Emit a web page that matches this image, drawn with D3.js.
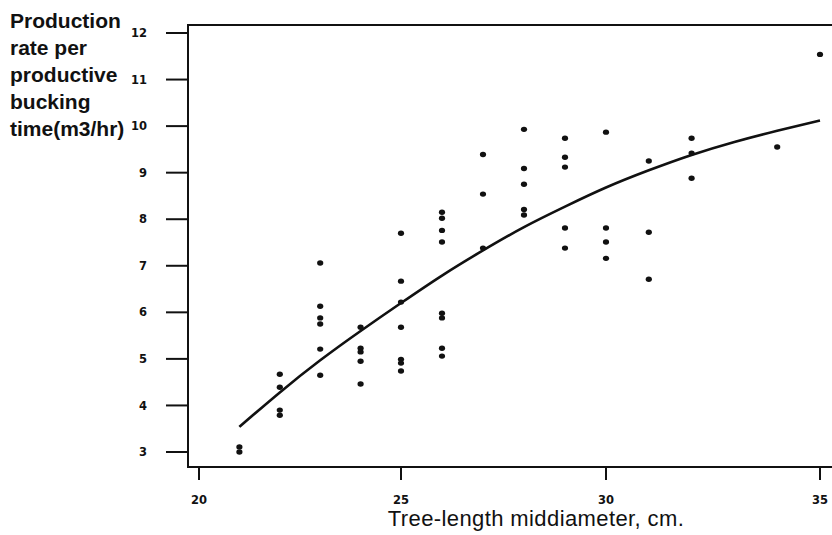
<!DOCTYPE html>
<html>
<head>
<meta charset="utf-8">
<script src="https://cdn.jsdelivr.net/npm/d3@7"></script>
<style>
  html, body { margin: 0; padding: 0; background: #fff; }
  svg { display: block; }
</style>
</head>
<body>
<svg id="chart" width="832" height="535"></svg>
<script>
// ---- data ----
const xTicks = [20, 25, 30, 35];
const yTicks = [3, 4, 5, 6, 7, 8, 9, 10, 11, 12];
const yTitleLines = ["Production", "rate per", "productive", "bucking", "time(m3/hr)"];
const xTitle = "Tree-length middiameter, cm.";

// observed points: diameter (cm) and production rate (m3/hr)
const pointX = [
  21, 21,
  22, 22, 22, 22,
  23, 23, 23, 23, 23, 23,
  24, 24, 24, 24, 24,
  25, 25, 25, 25, 25, 25, 25,
  26, 26, 26, 26, 26, 26, 26, 26,
  27, 27, 27,
  28, 28, 28, 28, 28,
  29, 29, 29, 29, 29,
  30, 30, 30, 30,
  31, 31, 31,
  32, 32, 32,
  34,
  35
];
const pointY = [
  3.11, 3.00,
  4.67, 4.39, 3.90, 3.79,
  7.06, 6.13, 5.88, 5.75, 5.21, 4.65,
  5.68, 5.23, 5.15, 4.95, 4.46,
  7.70, 6.67, 6.22, 5.68, 4.99, 4.91, 4.74,
  8.15, 8.02, 7.76, 7.51, 5.98, 5.88, 5.23, 5.06,
  9.39, 8.54, 7.38,
  9.93, 9.09, 8.75, 8.21, 8.09,
  9.74, 9.33, 9.12, 7.81, 7.38,
  9.87, 7.81, 7.51, 7.16,
  9.25, 7.72, 6.71,
  9.74, 9.42, 8.88,
  9.55,
  11.54
];

// fitted curve
const curveX = [21, 22, 23, 24, 25, 26, 27, 28, 29, 30, 31, 32, 33, 34, 35];
const curveY = [3.54, 4.28, 4.97, 5.60, 6.20, 6.79, 7.33, 7.83, 8.27, 8.68, 9.05, 9.38, 9.66, 9.90, 10.12];

// ---- layout ----
const svg = d3.select("#chart");
const axisLeftX = 188, axisTopY = 25, axisBottomY = 467, rightEdge = 832;

// x positions of the scanned ticks (slightly uneven in the original)
const x = d3.scaleLinear().domain(xTicks).range([199, 401, 606, 820]);
const y = d3.scaleLinear().domain([3, 12]).range([452, 33]);

svg.append("rect").attr("width", 832).attr("height", 535).attr("fill", "#fff");

// frame lines: top, left, bottom
const frame = svg.append("g").attr("stroke", "#111").attr("stroke-width", 2).attr("fill", "none");
frame.append("path").attr("d", `M${rightEdge},${axisTopY}H${axisLeftX}V${axisBottomY}H${rightEdge}`);

// y axis ticks and labels
const yAxis = svg.append("g");
yAxis.selectAll("line").data(yTicks).join("line")
  .attr("x1", 166).attr("x2", axisLeftX)
  .attr("y1", d => y(d)).attr("y2", d => y(d))
  .attr("stroke", "#111").attr("stroke-width", 2);
yAxis.selectAll("text").data(yTicks).join("text")
  .attr("x", 147).attr("y", d => y(d))
  .attr("dy", "0.36em")
  .attr("text-anchor", "end")
  .attr("font-family", "'DejaVu Sans', sans-serif")
  .attr("font-weight", "bold")
  .attr("font-size", 11.5)
  .attr("fill", "#111")
  .text(d => d);

// x axis ticks and labels
const xAxis = svg.append("g");
xAxis.selectAll("line").data(xTicks).join("line")
  .attr("x1", d => x(d)).attr("x2", d => x(d))
  .attr("y1", axisBottomY).attr("y2", 480)
  .attr("stroke", "#111").attr("stroke-width", 2);
xAxis.selectAll("text").data(xTicks).join("text")
  .attr("x", d => x(d)).attr("y", 500)
  .attr("dy", "0.36em")
  .attr("text-anchor", "middle")
  .attr("font-family", "'DejaVu Sans', sans-serif")
  .attr("font-weight", "bold")
  .attr("font-size", 11.5)
  .attr("fill", "#111")
  .text(d => d);

// y title
svg.append("g").selectAll("text").data(yTitleLines).join("text")
  .attr("x", 10).attr("y", (d, i) => 28 + i * 27)
  .attr("font-family", "'Liberation Sans', Arial, sans-serif")
  .attr("font-weight", "bold")
  .attr("font-size", 21)
  .attr("fill", "#111")
  .text(d => d);

// x title
svg.append("text")
  .attr("x", 536).attr("y", 526)
  .attr("text-anchor", "middle")
  .attr("font-family", "'Liberation Sans', Arial, sans-serif")
  .attr("font-size", 22)
  .attr("letter-spacing", 0.4)
  .attr("fill", "#111")
  .text(xTitle);

// fitted curve
const curveData = curveX.map((d, i) => [d, curveY[i]]);
svg.append("path")
  .datum(curveData)
  .attr("fill", "none")
  .attr("stroke", "#111")
  .attr("stroke-width", 2.6)
  .attr("d", d3.line().x(d => x(d[0])).y(d => y(d[1])).curve(d3.curveNatural));

// points
const pts = pointX.map((d, i) => [d, pointY[i]]);
svg.append("g").selectAll("ellipse").data(pts).join("ellipse")
  .attr("cx", d => x(d[0])).attr("cy", d => y(d[1]))
  .attr("rx", 3.1).attr("ry", 2.7)
  .attr("fill", "#111");
</script>
</body>
</html>
